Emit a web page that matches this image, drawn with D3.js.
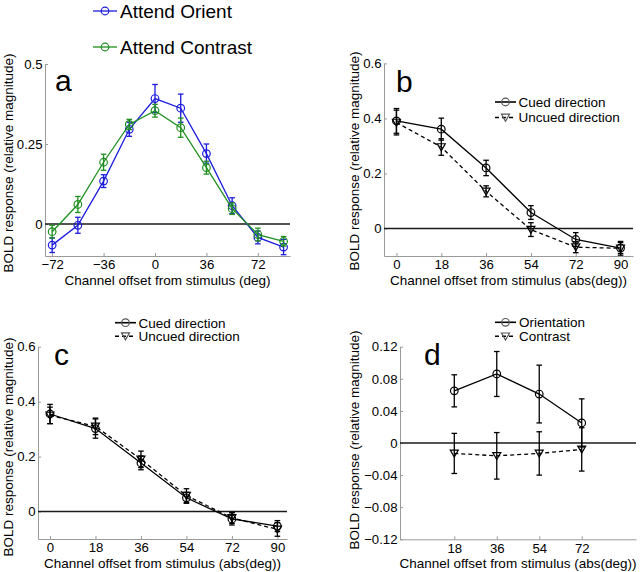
<!DOCTYPE html>
<html>
<head>
<meta charset="utf-8">
<script src="https://cdn.jsdelivr.net/npm/d3@7/dist/d3.min.js"></script>
<style>
  html, body { margin: 0; padding: 0; background: #fff; }
  svg text { font-family: "Liberation Sans", Arial, sans-serif; fill: #000; }
</style>
</head>
<body>
<svg id="chart" width="640" height="572"></svg>
<script>
// ---------- DATA ----------
// Panel a
const aX = [-72, -54, -36, -18, 0, 18, 36, 54, 72, 90];
const aOrient = [-0.066, -0.004, 0.134, 0.296, 0.392, 0.362, 0.220, 0.057, -0.042, -0.072];
const aOrientErr = [0.023, 0.025, 0.020, 0.022, 0.044, 0.044, 0.030, 0.025, 0.020, 0.024];
const aContrast = [-0.024, 0.061, 0.193, 0.311, 0.354, 0.301, 0.176, 0.048, -0.033, -0.054];
const aContrastErr = [0.020, 0.025, 0.025, 0.016, 0.020, 0.030, 0.020, 0.018, 0.020, 0.015];
const aXTicks = [-72, -36, 0, 36, 72];
const aXTickLabels = ["\u221272", "\u221236", "0", "36", "72"];
const aYTicks = [0, 0.25, 0.5];
const aYTickLabels = ["0", "0.25", "0.5"];
const aSeriesNames = ["Attend Orient", "Attend Contrast"];

// Panel b
const bX = [0, 18, 36, 54, 72, 90];
const bCued = [0.391, 0.361, 0.220, 0.058, -0.040, -0.071];
const bCuedErr = [0.045, 0.040, 0.028, 0.025, 0.025, 0.020];
const bUncued = [0.385, 0.296, 0.135, -0.004, -0.068, -0.072];
const bUncuedErr = [0.045, 0.030, 0.020, 0.025, 0.020, 0.025];

// Panel c
const cX = [0, 18, 36, 54, 72, 90];
const cCued = [0.355, 0.302, 0.177, 0.050, -0.027, -0.053];
const cCuedErr = [0.035, 0.035, 0.025, 0.020, 0.022, 0.020];
const cUncued = [0.350, 0.310, 0.190, 0.058, -0.023, -0.065];
const cUncuedErr = [0.030, 0.030, 0.030, 0.025, 0.020, 0.025];

const bcXTicks = [0, 18, 36, 54, 72, 90];
const bcXTickLabels = ["0", "18", "36", "54", "72", "90"];
const bcYTicks = [0, 0.2, 0.4, 0.6];
const bcYTickLabels = ["0", "0.2", "0.4", "0.6"];
const bcSeriesNames = ["Cued direction", "Uncued direction"];

// Panel d
const dX = [18, 36, 54, 72];
const dOrient = [0.065, 0.086, 0.061, 0.025];
const dOrientErr = [0.020, 0.028, 0.036, 0.030];
const dContrast = [-0.013, -0.016, -0.013, -0.008];
const dContrastErr = [0.025, 0.029, 0.027, 0.027];
const dXTicks = [18, 36, 54, 72];
const dXTickLabels = ["18", "36", "54", "72"];
const dYTicks = [-0.12, -0.08, -0.04, 0, 0.04, 0.08, 0.12];
const dYTickLabels = ["\u22120.12", "\u22120.08", "\u22120.04", "0", "0.04", "0.08", "0.12"];
const dSeriesNames = ["Orientation", "Contrast"];

const yTitle = "BOLD response (relative magnitude)";
const xTitleA = "Channel offset from stimulus (deg)";
const xTitleAbs = "Channel offset from stimulus (abs(deg))";

// ---------- DRAWING ----------
const svg = d3.select("#chart");
const FS = 13.5;
const TFS = 13.2;
const AXIS_GRAY = "#9a9a9a";
const BLUE = "#1c1cdc";
const GREEN = "#1f8f1f";

function markerPath(g, kind, x, y, color) {
  if (kind === "circle") {
    g.append("circle").attr("cx", x).attr("cy", y).attr("r", 3.8)
      .attr("fill", "none").attr("stroke", color).attr("stroke-width", 1.2);
  } else {
    g.append("path")
      .attr("d", `M${x - 4},${y - 3.3}L${x + 4},${y - 3.3}L${x},${y + 3.7}Z`)
      .attr("fill", "none").attr("stroke", color).attr("stroke-width", 1.2);
  }
}

function drawPanel(p) {
  const g = svg.append("g");
  const x = d3.scaleLinear().domain(p.xDomain).range(p.xRange);
  const y = d3.scaleLinear().domain(p.yDomain).range(p.yRange);

  // axes
  const yAxis = d3.axisLeft(y).tickValues(p.yTicks)
    .tickFormat((d, i) => p.yTickLabels[i]).tickSizeInner(-3).tickSizeOuter(0).tickPadding(2.5);
  const xAxis = d3.axisBottom(x).tickValues(p.xTicks)
    .tickFormat((d, i) => p.xTickLabels[i]).tickSizeInner(-3).tickSizeOuter(0).tickPadding(4);

  const ya = g.append("g").attr("transform", `translate(${p.xRange[0]},0)`).call(yAxis);
  const xa = g.append("g").attr("transform", `translate(0,${p.yRange[0]})`).call(xAxis);
  [ya, xa].forEach(a => {
    a.select(".domain").attr("stroke", AXIS_GRAY).attr("stroke-width", 1);
    a.selectAll(".tick line").attr("stroke", AXIS_GRAY);
    a.selectAll(".tick text").attr("font-size", TFS)
      .attr("font-family", "'Liberation Sans', Arial, sans-serif").attr("fill", "#000");
  });

  // zero line
  g.append("line")
    .attr("x1", p.xRange[0]).attr("x2", p.xRange[1])
    .attr("y1", y(0)).attr("y2", y(0))
    .attr("stroke", "#1a1a1a").attr("stroke-width", 1.6);

  // series
  p.series.forEach(s => {
    const pts = s.x.map((xv, i) => ({ x: xv, y: s.y[i], e: s.e[i] }));
    const line = d3.line().x(d => x(d.x)).y(d => y(d.y));
    g.append("path").datum(pts).attr("d", line)
      .attr("fill", "none").attr("stroke", s.color).attr("stroke-width", 1.3)
      .attr("stroke-dasharray", s.dash ? "4,3" : null);
    pts.forEach(d => {
      const cx = x(d.x), y1 = y(d.y + d.e), y2 = y(d.y - d.e);
      g.append("line").attr("x1", cx).attr("x2", cx).attr("y1", y1).attr("y2", y2)
        .attr("stroke", s.color).attr("stroke-width", 1.3);
      [y1, y2].forEach(yy => g.append("line")
        .attr("x1", cx - 2.8).attr("x2", cx + 2.8).attr("y1", yy).attr("y2", yy)
        .attr("stroke", s.color).attr("stroke-width", 1.3));
      markerPath(g, s.marker, cx, y(d.y), s.color);
    });
  });

  // titles
  g.append("text").attr("x", (p.xRange[0] + p.xRange[1]) / 2).attr("y", p.xTitleY)
    .attr("text-anchor", "middle").attr("font-size", FS).text(p.xTitle);
  g.append("text")
    .attr("transform", `translate(${p.yTitleX},${p.yTitleCY}) rotate(-90)`)
    .attr("text-anchor", "middle").attr("font-size", FS).text(yTitle);

  // panel letter
  g.append("text").attr("x", p.letterPos[0]).attr("y", p.letterPos[1])
    .attr("font-size", 30).text(p.letter);

  // legend
  p.series.forEach((s, i) => {
    const L = p.legend;
    const ly = L.y + i * L.dy;
    g.append("line").attr("x1", L.x).attr("x2", L.x + L.w).attr("y1", ly).attr("y2", ly)
      .attr("stroke", s.color).attr("stroke-width", L.sw)
      .attr("stroke-dasharray", s.dash ? "4,3" : null);
    markerPath(g, s.marker, L.x + L.w / 2, ly, s.legendMarkerColor || s.color);
    g.append("text").attr("x", L.x + L.w + L.gap).attr("y", ly + L.fs * 0.36)
      .attr("font-size", L.fs).text(s.name);
  });
}

drawPanel({
  xDomain: [-77, 94.5], xRange: [45, 290],
  yDomain: [-0.1, 0.5], yRange: [256, 64],
  xTicks: aXTicks, xTickLabels: aXTickLabels, yTicks: aYTicks, yTickLabels: aYTickLabels,
  xTitle: xTitleA, xTitleY: 285, yTitleX: 12.5, yTitleCY: 163,
  letter: "a", letterPos: [55, 91],
  legend: { x: 93, y: 11, dy: 36, w: 24, gap: 3, fs: 19, sw: 1.3 },
  series: [
    { name: aSeriesNames[0], x: aX, y: aOrient, e: aOrientErr, color: BLUE, marker: "circle" },
    { name: aSeriesNames[1], x: aX, y: aContrast, e: aContrastErr, color: GREEN, marker: "circle" }
  ]
});

drawPanel({
  xDomain: [-5, 95], xRange: [384, 633],
  yDomain: [-0.1, 0.6], yRange: [256, 63.4],
  xTicks: bcXTicks, xTickLabels: bcXTickLabels, yTicks: bcYTicks, yTickLabels: bcYTickLabels,
  xTitle: xTitleAbs, xTitleY: 285, yTitleX: 359, yTitleCY: 161,
  letter: "b", letterPos: [396, 92],
  legend: { x: 495, y: 102, dy: 15.5, w: 21, gap: 2.5, fs: 13.5, sw: 1.6 },
  series: [
    { name: bcSeriesNames[0], x: bX, y: bCued, e: bCuedErr, color: "#000", marker: "circle", legendMarkerColor: "#555" },
    { name: bcSeriesNames[1], x: bX, y: bUncued, e: bUncuedErr, color: "#000", marker: "tri", dash: true, legendMarkerColor: "#555" }
  ]
});

drawPanel({
  xDomain: [-4.75, 93.8], xRange: [38, 287],
  yDomain: [-0.1, 0.6], yRange: [539, 346.7],
  xTicks: bcXTicks, xTickLabels: bcXTickLabels, yTicks: bcYTicks, yTickLabels: bcYTickLabels,
  xTitle: xTitleAbs, xTitleY: 567.8, yTitleX: 12.5, yTitleCY: 447,
  letter: "c", letterPos: [54, 365],
  legend: { x: 115, y: 322.7, dy: 13.5, w: 21, gap: 2.5, fs: 13.5, sw: 1.6 },
  series: [
    { name: bcSeriesNames[0], x: cX, y: cCued, e: cCuedErr, color: "#000", marker: "circle", legendMarkerColor: "#555" },
    { name: bcSeriesNames[1], x: cX, y: cUncued, e: cUncuedErr, color: "#000", marker: "tri", dash: true, legendMarkerColor: "#555" }
  ]
});

drawPanel({
  xDomain: [-5, 95], xRange: [400, 636],
  yDomain: [-0.12, 0.12], yRange: [539.3, 346.7],
  xTicks: dXTicks, xTickLabels: dXTickLabels, yTicks: dYTicks, yTickLabels: dYTickLabels,
  xTitle: xTitleAbs, xTitleY: 567.8, yTitleX: 359, yTitleCY: 440,
  letter: "d", letterPos: [424, 365],
  legend: { x: 495, y: 322.3, dy: 14, w: 21, gap: 3, fs: 13.5, sw: 1.6 },
  series: [
    { name: dSeriesNames[0], x: dX, y: dOrient, e: dOrientErr, color: "#000", marker: "circle", legendMarkerColor: "#555" },
    { name: dSeriesNames[1], x: dX, y: dContrast, e: dContrastErr, color: "#000", marker: "tri", dash: true, legendMarkerColor: "#555" }
  ]
});
</script>
</body>
</html>
